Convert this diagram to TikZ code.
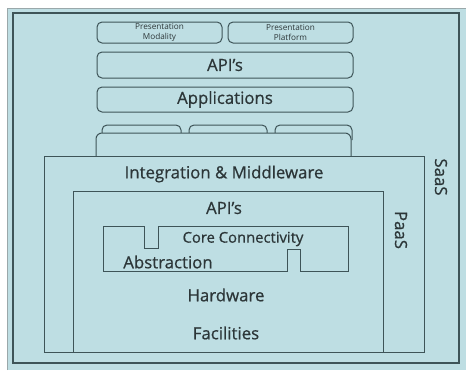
\documentclass[tikz,border=0pt]{standalone}
\usepackage{fontspec}
\setmainfont{Open Sans}
\newfontfamily\medfont{Open Sans}[FakeBold=0.7]
\definecolor{bluefill}{HTML}{BEDEE3}
\definecolor{edge}{HTML}{3E5458}
\definecolor{inked}{HTML}{2C3638}
\definecolor{paleedge}{HTML}{9AA8AA}
\tikzset{
  rbox/.style={draw=edge, line width=1pt, rounded corners=5pt, fill=bluefill, inner sep=0pt},
  sbox/.style={draw=edge, line width=0.9pt, fill=bluefill, inner sep=0pt},
  lbl/.style={text=inked, font=\medfont\fontsize{16.8}{18}\selectfont, inner sep=0pt},
  small/.style={text=inked, font=\fontsize{8.2}{9.5}\selectfont, align=center, inner sep=0pt},
}
\begin{document}
\begin{tikzpicture}[x=1pt, y=-1pt]
\useasboundingbox (0,0) rectangle (466,370);
\fill[white] (0,0) rectangle (466,370);
\fill[bluefill] (7,8) rectangle (466,370);
\draw[paleedge, line width=0.8pt] (7,370) -- (7,8) -- (466,8);
\node[draw=edge, line width=1.4pt, minimum width=446pt, minimum height=350pt, inner sep=0pt] (outer) at (236,188) {};
% top boxes
\node[rbox, minimum width=125pt, minimum height=21pt] (pm) at (159.5,32.5) {};
\node[small] (pmt) at (pm) {Presentation\\Modality};
\node[rbox, minimum width=125pt, minimum height=21pt] (pp) at (290.5,32.5) {};
\node[small] (ppt) at (pp) {Presentation\\Platform};
\node[rbox, minimum width=256pt, minimum height=26pt] (api1) at (225,65) {};
\node[lbl] (api1t) at (api1) {API’s};
\node[rbox, minimum width=256pt, minimum height=25pt] (apps) at (225,99.5) {};
\node[lbl] (appst) at (apps) {Applications};
% tabs
\draw[edge, line width=1pt, rounded corners=5pt] (102,140) -- (102,125) -- (181,125) -- (181,140);
\draw[edge, line width=1pt, rounded corners=5pt] (189,140) -- (189,125) -- (267,125) -- (267,140);
\draw[edge, line width=1pt, rounded corners=5pt] (275,140) -- (275,125) -- (352,125) -- (352,140);
\draw[edge, line width=1pt, fill=bluefill, rounded corners=6pt] (96,192) -- (96,133) -- (351,133) -- (351,192);
% SaaS
\node[sbox, minimum width=380pt, minimum height=196pt] (saas) at (234,254) {};
\node[lbl] (integ) at (224,174) {Integration \& Middleware};
\node[lbl, rotate=-90] (saast) at (441,177) {SaaS};
% PaaS
\node[sbox, minimum width=310pt, minimum height=161pt] (paas) at (228,271.5) {};
\node[lbl] (api2) at (224,208) {API’s};
\node[lbl, rotate=-90] (paast) at (401,230) {PaaS};
% core
\draw[edge, line width=0.9pt] (103,226) -- (144,226) -- (144,248) -- (158,248) -- (158,226) -- (348,226) -- (348,271) -- (300,271) -- (300,249) -- (287,249) -- (287,271) -- (103,271) -- cycle;
\node[lbl, font=\medfont\fontsize{14.8}{16}\selectfont] (core) at (243,239) {Core Connectivity};
\node[lbl] (abs) at (168,262) {Abstraction};
\node[lbl] (hw) at (226,295) {Hardware};
\node[lbl] (fac) at (226,333) {Facilities};
\end{tikzpicture}
\end{document}
